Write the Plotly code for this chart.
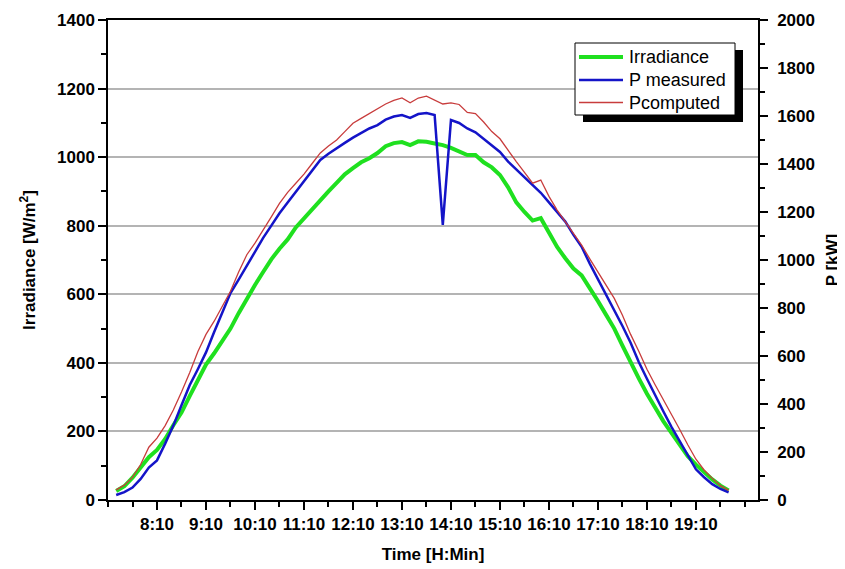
import plotly.graph_objects as go

# ---- data ----
times = ["7:20", "7:30", "7:40", "7:50",
         "8:00", "8:10", "8:20", "8:30", "8:40", "8:50",
         "9:00", "9:10", "9:20", "9:30", "9:40", "9:50",
         "10:00", "10:10", "10:20", "10:30", "10:40", "10:50",
         "11:00", "11:10", "11:20", "11:30", "11:40", "11:50",
         "12:00", "12:10", "12:20", "12:30", "12:40", "12:50",
         "13:00", "13:10", "13:20", "13:30", "13:40", "13:50",
         "14:00", "14:10", "14:20", "14:30", "14:40", "14:50",
         "15:00", "15:10", "15:20", "15:30", "15:40", "15:50",
         "16:00", "16:10", "16:20", "16:30", "16:40", "16:50",
         "17:00", "17:10", "17:20", "17:30", "17:40", "17:50",
         "18:00", "18:10", "18:20", "18:30", "18:40", "18:50",
         "19:00", "19:10", "19:20", "19:30", "19:40", "19:50"]

irradiance = [26, 40, 65, 97,
              125, 146, 178, 218, 255, 303,
              350, 395, 428, 462, 500, 545,
              587, 627, 665, 702, 733, 760,
              795, 822, 850, 875, 900, 925,
              950, 968, 985, 997, 1012, 1032,
              1041, 1044, 1035, 1046, 1045, 1040,
              1035, 1027, 1018, 1006, 1006, 985,
              970, 948, 912, 868, 840, 815,
              822, 780, 738, 705, 675, 655,
              620, 580, 540, 500, 450, 400,
              355, 310, 268, 230, 196, 160,
              128, 103, 80, 60, 42, 28]

p_measured = [21, 33, 52, 88,
              135, 165, 235, 310, 395, 478,
              545, 615, 700, 782, 862, 918,
              978, 1035, 1092, 1143, 1195, 1240,
              1285, 1330, 1375, 1417, 1443, 1467,
              1488, 1510, 1530, 1548, 1562, 1585,
              1598, 1604, 1592, 1608, 1612, 1604,
              1146, 1583, 1571, 1548, 1532, 1505,
              1480, 1450, 1410, 1378, 1345, 1312,
              1280, 1240, 1200, 1160, 1105, 1055,
              985, 920, 858, 795, 725, 655,
              575, 505, 435, 370, 305, 245,
              185, 128, 95, 66, 46, 32]

p_computed = [42, 62, 94, 148,
              220, 258, 310, 375, 450, 530,
              618, 690, 745, 810, 870, 950,
              1022, 1070, 1128, 1180, 1236, 1282,
              1320, 1358, 1402, 1446, 1475, 1500,
              1535, 1570, 1590, 1610, 1630, 1650,
              1665, 1675, 1655, 1675, 1683, 1668,
              1650, 1655, 1648, 1615, 1610, 1575,
              1535, 1505, 1455, 1410, 1365, 1320,
              1333, 1265, 1208, 1160, 1110, 1062,
              1005, 948, 895, 840, 770, 690,
              620, 545, 480, 420, 355, 295,
              230, 170, 125, 90, 60, 40]

series_names = ["Irradiance", "P measured", "Pcomputed"]
series_colors = ["#1fe01f", "#1414c8", "#c83c3c"]
series_widths = [4, 2.5, 1.3]

major_ticks = ["8:10", "9:10", "10:10", "11:10", "12:10", "13:10",
               "14:10", "15:10", "16:10", "17:10", "18:10", "19:10"]
minor_ticks = ["7:10", "7:40", "8:40", "9:40", "10:40", "11:40", "12:40", "13:40",
               "14:40", "15:40", "16:40", "17:40", "18:40", "19:40", "20:10"]
x_start = "7:10"
x_end = "20:26"


def to_min(s):
    h, m = s.split(":")
    return int(h) * 60 + int(m)


x = [to_min(t) for t in times]

FONT = "Liberation Sans, Arial, sans-serif"

# plot area in page pixels (page has an 8px body margin)
PL, PR, PT, PB = 108, 758, 20, 500
W, H = 837, 561
OFF = 8


def px(xp):
    return (xp - PL) / (PR - PL)


def py(yp):
    return (PB - yp) / (PB - PT)


fig = go.Figure()
ys = [irradiance, p_measured, p_computed]
axes = ["y", "y2", "y2"]
for name, col, wid, yv, ax in zip(series_names, series_colors, series_widths, ys, axes):
    fig.add_trace(go.Scatter(x=x, y=yv, name=name, mode="lines",
                             line=dict(color=col, width=wid), yaxis=ax,
                             showlegend=False))

axis_common = dict(showline=True, linecolor="black", linewidth=1.5,
                   ticks="outside", ticklen=8, tickwidth=1.5, tickcolor="black",
                   tickfont=dict(family=FONT, size=17, color="black", weight="bold"),
                   zeroline=False, automargin=False)

# custom legend (box with drop shadow)
box = (575, 43, 735, 115)
shadow_off = (8, 7)
shapes = [
    dict(type="rect", xref="paper", yref="paper",
         x0=px(box[0] + shadow_off[0]), x1=px(box[2] + shadow_off[0]),
         y0=py(box[3] + shadow_off[1]), y1=py(box[1] + shadow_off[1]),
         fillcolor="black", line=dict(width=0), layer="above"),
    dict(type="rect", xref="paper", yref="paper",
         x0=px(box[0]), x1=px(box[2]), y0=py(box[3]), y1=py(box[1]),
         fillcolor="white", line=dict(color="black", width=1), layer="above"),
]
annotations = []
row_y = [57, 80, 102.5]
for name, col, wid, ry in zip(series_names, series_colors, series_widths, row_y):
    shapes.append(dict(type="line", xref="paper", yref="paper",
                       x0=px(579), x1=px(623), y0=py(ry), y1=py(ry),
                       line=dict(color=col, width=wid), layer="above"))
    annotations.append(dict(xref="paper", yref="paper", x=px(627), y=py(ry),
                            xanchor="left", yanchor="middle", showarrow=False,
                            text=name, font=dict(family=FONT, size=18, color="black")))

fig.update_layout(
    width=W, height=H,
    margin=dict(l=PL - OFF, r=W - (PR - OFF), t=PT - OFF, b=H - (PB - OFF)),
    paper_bgcolor="white", plot_bgcolor="white",
    font=dict(family=FONT, color="black"),
    showlegend=False,
    xaxis=dict(
        **axis_common,
        range=[to_min(x_start), to_min(x_end)],
        tickmode="array",
        tickvals=[to_min(t) for t in major_ticks],
        ticktext=major_ticks,
        mirror=True,
        showgrid=False,
        minor=dict(tickmode="array", tickvals=[to_min(t) for t in minor_ticks],
                   ticks="outside", ticklen=5, tickwidth=1.5, tickcolor="black",
                   showgrid=False),
        title=dict(text="Time [H:Min]", font=dict(family=FONT, size=17, weight="bold"),
                   standoff=15),
    ),
    yaxis=dict(
        **axis_common,
        range=[0, 1400], dtick=200,
        showgrid=True, gridcolor="#b4b4b4", gridwidth=1.5,
        minor=dict(dtick=100, ticks="outside", ticklen=5, tickwidth=1.5,
                   tickcolor="black", showgrid=False),
        title=dict(text="Irradiance [W/m<sup>2</sup>]",
                   font=dict(family=FONT, size=17, weight="bold"), standoff=17),
    ),
    yaxis2=dict(
        **axis_common,
        overlaying="y", side="right",
        range=[0, 2000], dtick=200,
        showgrid=False,
        ticklabelstandoff=6,
        minor=dict(dtick=100, ticks="outside", ticklen=5, tickwidth=1.5,
                   tickcolor="black", showgrid=False),
        title=dict(text="P [kW]", font=dict(family=FONT, size=17, weight="bold"),
                   standoff=12),
    ),
    shapes=shapes,
    annotations=annotations,
)

fig.write_html("out.html")
